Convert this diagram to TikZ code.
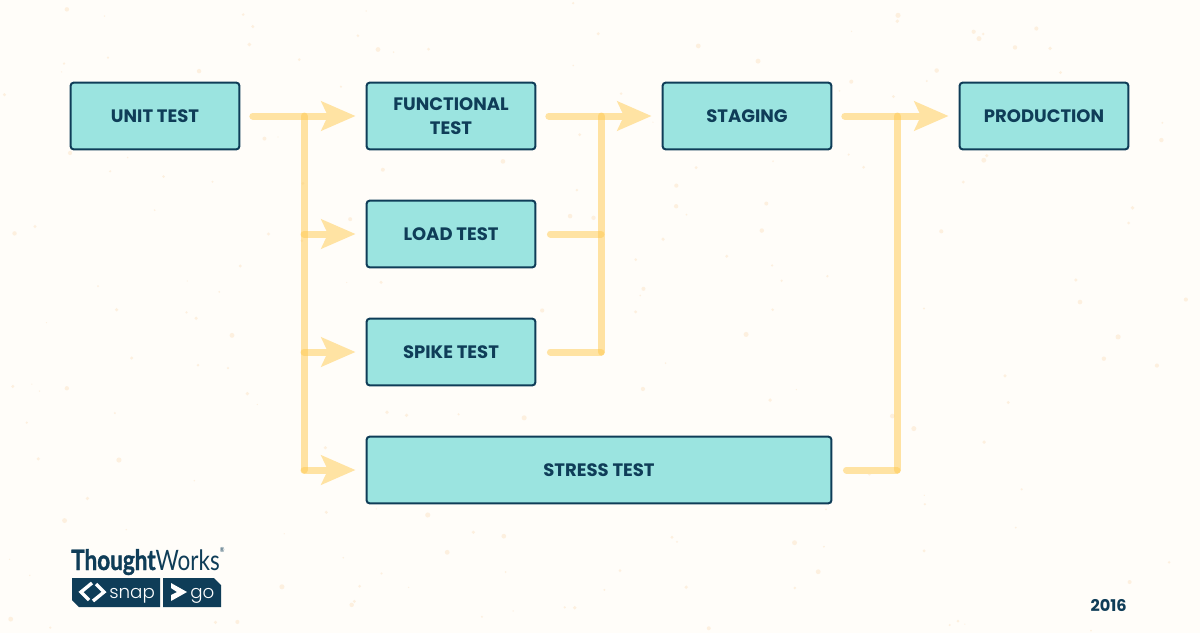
\documentclass[tikz,border=0pt]{standalone}
\usepackage{fontspec}
\setmainfont{Poppins}
\newfontfamily\brandfont[FakeStretch=0.8, BoldFeatures={FakeBold=1.2}]{Lato}
\newfontfamily\badgefont[UprightFont=*-Light]{Poppins}
\usetikzlibrary{arrows.meta}

\definecolor{pagecolor}{HTML}{FFFDF9}
\definecolor{boxcolor}{HTML}{9BE4E0}
\definecolor{inkcolor}{HTML}{0F3D58}
\definecolor{flowcolor}{HTML}{FFE3A3}
\definecolor{barcolor}{HTML}{FFC94D}
\definecolor{specklecolor}{HTML}{FBD3A4}

\tikzset{
  stagebox/.style={draw=inkcolor, fill=boxcolor, line width=0.05cm, rounded corners=0.08cm,
    minimum width=4.22cm, minimum height=1.67cm, align=center, text=inkcolor,
    font=\fontsize{12.8}{17}\selectfont\bfseries},
  flowline/.style={draw=flowcolor, line width=0.175cm, line cap=round},
  flowbar/.style={draw=barcolor, opacity=0.5, line width=0.175cm, line cap=round},
  flowarrow/.style={flowline, shorten >=0.25cm,
    -{Stealth[length=0.85cm, width=0.72cm, inset=0.16cm]}}
}

\begin{document}
\begin{tikzpicture}[x=0.025cm, y=-0.025cm]
  % Page with its faint speckles
  \fill[pagecolor] (0,0) rectangle (1200,633);
  \useasboundingbox (0,0) rectangle (1200,633);
  \pgfmathsetseed{2016}
  \foreach \i in {1,...,220} {
    \fill[specklecolor, opacity=0.3] ({1200*rnd}, {633*rnd}) circle ({0.6+2*rnd});
  }

  % Stages
  \node[stagebox] (unit) at (155,116) {UNIT TEST};
  \node[stagebox] (functional) at (451,116) {FUNCTIONAL\\TEST};
  \node[stagebox] (staging) at (747,116) {STAGING};
  \node[stagebox] (production) at (1044,116) {PRODUCTION};
  \node[stagebox] (load) at (451,234) {LOAD TEST};
  \node[stagebox] (spike) at (451,352) {SPIKE TEST};
  \node[stagebox, minimum width=11.62cm] (stress) at (599,470) {STRESS TEST};

  % Junctions on the vertical bars
  \coordinate (forktop) at (304,116);
  \coordinate (forkload) at (304,234);
  \coordinate (forkspike) at (304,352);
  \coordinate (forkstress) at (304,470);
  \coordinate (jointop) at (601,116);
  \coordinate (joinload) at (601,234);
  \coordinate (joinspike) at (601,352);
  \coordinate (mergetop) at (897,116);
  \coordinate (mergestress) at (897,470);

  % Unit test fans out
  \draw[flowarrow, shorten <=0.31cm] (unit.east) -- (functional.west);
  \draw[flowarrow] (forkload) -- (load.west);
  \draw[flowarrow] (forkspike) -- (spike.west);
  \draw[flowarrow] (forkstress) -- (stress.west);
  \draw[flowbar] (forktop) -- (forkstress);

  % Into staging
  \draw[flowarrow, shorten <=0.31cm] (functional.east) -- (staging.west);
  \draw[flowline, shorten <=0.35cm] (load.east) -- (joinload);
  \draw[flowline, shorten <=0.35cm] (spike.east) -- (joinspike);
  \draw[flowbar] (jointop) -- (joinspike);

  % Into production
  \draw[flowarrow, shorten <=0.31cm] (staging.east) -- (production.west);
  \draw[flowline, shorten <=0.35cm] (stress.east) -- (mergestress);
  \draw[flowbar] (mergetop) -- (mergestress);

  % Logo
  \node[anchor=base west, inner sep=0pt, text=inkcolor, font=\brandfont\fontsize{20}{20}\selectfont] (brand) at (71,570)
    {\textbf{Thought}Works\raisebox{1.2ex}{\fontsize{5}{5}\selectfont\textregistered}};
  \fill[inkcolor] (72,578) -- (160,578) -- (160,607) -- (79,607) -- (72,600) -- cycle;
  \fill[inkcolor] (163,578) -- (214,578) -- (221,585) -- (221,607) -- (163,607) -- cycle;
  \draw[white, line width=0.085cm] (92,583) -- (81,592) -- (89,600) (96,584) -- (104,592) -- (93,601);
  \fill[white] (171,583) -- (187,592) -- (171,601) -- (171,595) -- (177,592) -- (171,588) -- cycle;
  \node[anchor=base west, inner sep=0pt, text=white, font=\badgefont\fontsize{13}{15}\selectfont] (snap) at (109,598) {snap};
  \node[anchor=base west, inner sep=0pt, text=white, font=\badgefont\fontsize{13}{15}\selectfont] (go) at (190,598) {go};

  % Year
  \node[anchor=east, inner sep=0pt, text=inkcolor, font=\fontsize{11.5}{12}\selectfont\bfseries] (year) at (1127,605) {2016};
\end{tikzpicture}
\end{document}
